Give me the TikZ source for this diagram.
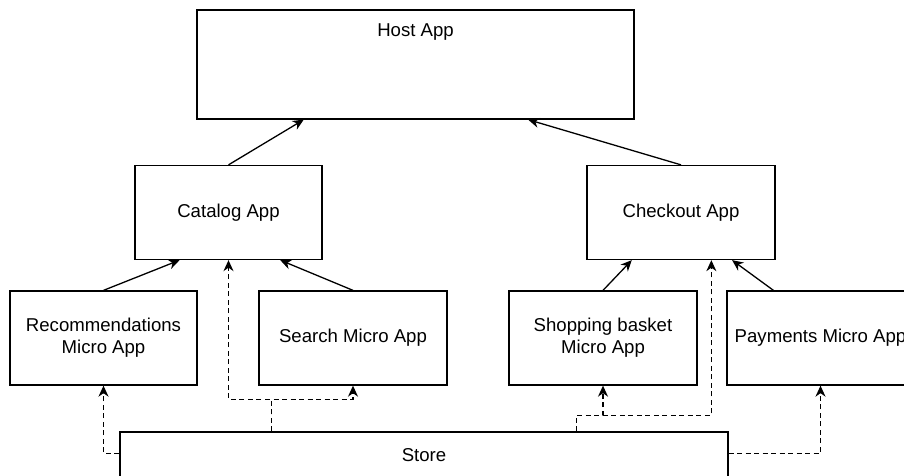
\documentclass[tikz,border=0pt]{standalone}
\usepackage{fontspec}
\setmainfont{Liberation Sans}
\usetikzlibrary{arrows.meta,calc}
\begin{document}
\begin{tikzpicture}[x=1pt,y=-1pt,
  box/.style={draw, line width=1.3pt, minimum width=187pt, minimum height=94pt,
    inner sep=0pt, align=center, font=\fontsize{18.6}{22.3}\selectfont},
  lbl/.style={inner sep=0pt, font=\fontsize{18.6}{22.3}\selectfont},
  link/.style={line width=1.3pt, -{Stealth[length=11pt,width=10pt,inset=3.5pt]}},
  dlink/.style={link, dash pattern=on 5pt off 3.5pt}]
\useasboundingbox (0,0) rectangle (904,475);
\clip (0,0) rectangle (904,475);

% top level
\node[box, minimum width=437pt, minimum height=109pt] (host) at (415.5,64.5) {};
\node[lbl] (hostlbl) at (415.5,32) {Host App};

% composite apps
\node[box, minimum width=187pt] (cat) at (228.5,212.5) {Catalog App};
\node[box, minimum width=188pt] (chk) at (681,212.5) {Checkout App};

% micro apps
\node[box] (rec)  at (103.5,338) {Recommendations\\Micro App};
\node[box, minimum width=188pt] (srch) at (353,338) {Search Micro App};
\node[box, minimum width=188pt] (shop) at (603,338) {Shopping basket\\Micro App};
\node[box] (pay)  at (820.5,338) {Payments Micro App};

% shared store
\node[box, minimum width=608pt, minimum height=46pt] (store) at (424,455) {Store};

% composition links
\draw[link] (cat.north)  -- ($(host.south west)!0.245!(host.south east)$);
\draw[link] (chk.north)  -- ($(host.south west)!0.757!(host.south east)$);
\draw[link] (rec.north)  -- ($(cat.south west)!0.24!(cat.south east)$);
\draw[link] (srch.north) -- ($(cat.south west)!0.775!(cat.south east)$);
\draw[link] (shop.north) -- ($(chk.south west)!0.24!(chk.south east)$);
\draw[link] ($(pay.north west)!0.25!(pay.north east)$) -- ($(chk.south west)!0.77!(chk.south east)$);

% store subscriptions
\coordinate (sA) at ($(store.north west)!0.25!(store.north east)$);
\coordinate (sB) at ($(store.north west)!0.75!(store.north east)$);
\coordinate (jA) at ($(sA)+(0,-32)$);
\coordinate (jB) at ($(sB)+(0,-16)$);
\coordinate (sL) at ($(store.north west)+(0,22)$);
\coordinate (sR) at ($(store.north east)+(0,22)$);
\coordinate (chkin) at ($(chk.south west)+(125,0)$);

\draw[dlink] (sA) -- (jA) -| (cat.south);
\draw[dlink] (sA) -- (jA) -| (srch.south);
\draw[dlink] (sL) -| (rec.south);
\draw[dlink] (sB) -- (jB) -| (shop.south);
\draw[dlink] (sB) -- (jB) -| (chkin);
\draw[dlink] (sR) -| (pay.south);
\end{tikzpicture}
\end{document}
